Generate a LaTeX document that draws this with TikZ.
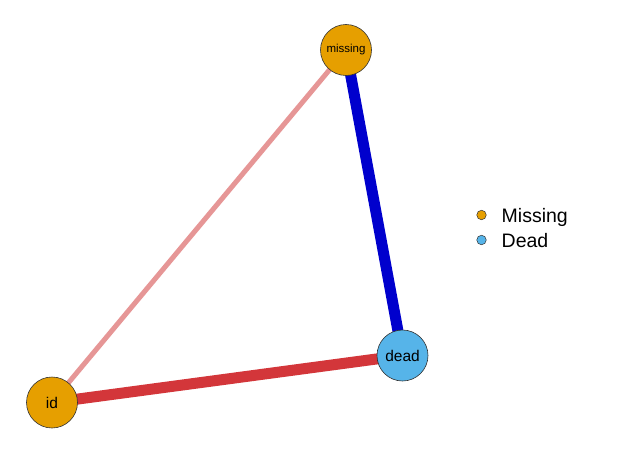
\documentclass[tikz,border=0pt]{standalone}
\usepackage{fontspec}
\setmainfont{Liberation Sans}
\usetikzlibrary{backgrounds}
\definecolor{nodeorange}{RGB}{230,159,0}
\definecolor{nodeblue}{RGB}{86,180,233}
\definecolor{edgered}{RGB}{211,54,58}
\definecolor{edgepink}{RGB}{230,150,150}
\definecolor{edgeblue}{RGB}{0,0,205}
\newcommand*\noderadius{25.5pt}
\tikzset{vertex/.style 2 args={
    draw=black!80,
    line width=0.6pt,
    circle,
    fill=#1,
    inner sep=0pt,
    minimum size=2*\noderadius,
    font=\fontsize{#2}{#2}\selectfont
},
legenddot/.style={
    draw=black!80,
    line width=0.5pt,
    circle,
    fill=#1,
    inner sep=0pt,
    minimum size=9.5pt
},
legendtext/.style={
    anchor=base west,
    inner sep=0pt,
    font=\fontsize{19.5}{19.5}\selectfont
}}

\begin{document}
\begin{tikzpicture}[x=1pt,y=-1pt]
    \useasboundingbox (0,0) rectangle (637,455);

    % The three vertices.
    \node[vertex={nodeorange}{11.5}] (missing) at (346,50) {missing};
    \node[vertex={nodeblue}{15.5}] (dead) at (402.5,355.5) {dead};
    \node[vertex={nodeorange}{15.5}] (id) at (52,402.5) {id};

    % Edges go behind the vertices.
    \begin{pgfonlayer}{background}
        \draw[edgepink, line width=5pt] (id.center) -- (missing.center);
        \draw[edgeblue, line width=11pt] (missing.center) -- (dead.center);
        \draw[edgered, line width=11pt] (id.center) -- (dead.center);
    \end{pgfonlayer}

    % Legend.
    \node[legenddot=nodeorange] (keymissing) at (481.5,215) {};
    \node[legenddot=nodeblue] (keydead) at (481.5,240) {};
    \node[legendtext] (labmissing) at (501.5,222) {Missing};
    \node[legendtext] (labdead) at (501.5,247) {Dead};

\end{tikzpicture}
\end{document}
